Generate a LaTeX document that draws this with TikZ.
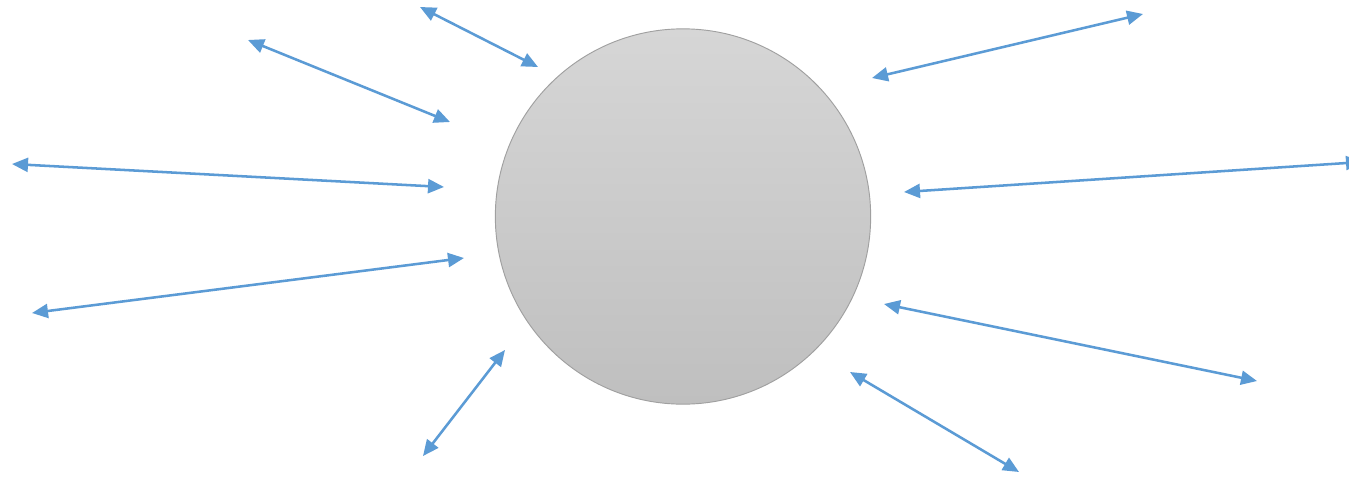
\documentclass[tikz,border=0pt]{standalone}
\usetikzlibrary{arrows.meta}
\definecolor{arrblue}{HTML}{5B9BD5}
\definecolor{ctop}{HTML}{D6D6D6}
\definecolor{cbot}{HTML}{BFBFBF}
\definecolor{cedge}{HTML}{A0A0A0}
\tikzset{
  link/.style={draw=arrblue, line width=1.9pt,
    {Triangle[length=12pt,width=10.5pt]}-{Triangle[length=12pt,width=10.5pt]}},
  hub/.style={circle, inner sep=0pt, minimum size=281.5pt, draw=cedge, line width=0.7pt,
    top color=ctop, bottom color=cbot}
}
\begin{document}
\begin{tikzpicture}[x=0.75pt,y=-0.75pt]
\useasboundingbox (0,0) rectangle (1349,479);
\clip (0,0) rectangle (1349,479);
\fill[white] (0,0) rectangle (1349,479);
\node[hub] (c) at (683,216.5) {};
\coordinate (a1) at (420,7);    \coordinate (b1) at (538,67);
\coordinate (a2) at (248,40);   \coordinate (b2) at (450,122);
\coordinate (a3) at (12,164);   \coordinate (b3) at (444,187);
\coordinate (a4) at (32,313);   \coordinate (b4) at (464,258);
\coordinate (a5) at (423,456);  \coordinate (b5) at (505,350);
\coordinate (a6) at (872,78);   \coordinate (b6) at (1143,14);
\coordinate (a7) at (904,192);  \coordinate (b7) at (1362,162);
\coordinate (a8) at (884,304);  \coordinate (b8) at (1257,381);
\coordinate (a9) at (850,372);  \coordinate (b9) at (1019,472);
\foreach \i in {1,...,9} { \draw[link] (a\i) -- (b\i); }
\end{tikzpicture}
\end{document}
